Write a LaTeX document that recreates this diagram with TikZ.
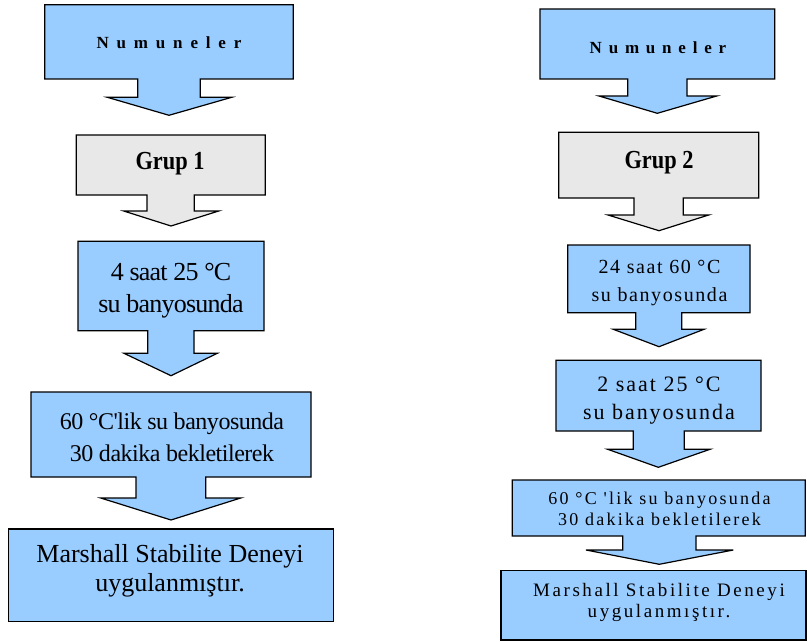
\documentclass[tikz,border=0pt]{standalone}
\usepackage{fontspec}
\newfontfamily\serifx{Liberation Serif}
\newfontfamily\grupfont[FakeStretch=0.86]{Liberation Serif}
\definecolor{boxblue}{HTML}{99CCFF}
\definecolor{boxgray}{HTML}{E8E8E8}
\begin{document}
\begin{tikzpicture}[x=1pt,y=-1pt,
  shp/.style={draw=black,line width=1.2pt,line join=miter},
  txt/.style={anchor=base,inner sep=0pt,text=black,font=\serifx}]
\useasboundingbox (0,0) rectangle (807,642);
% ---------- left column ----------
\draw[shp,fill=boxblue] (44.7,4.7) -- (293.3,4.7) -- (293.3,79) -- (200.3,79) -- (200.3,97.3) -- (231.7,97.3) -- (169,115.3) -- (107.3,97.3) -- (137.7,97.3) -- (137.7,79) -- (44.7,79) -- cycle;
\draw[shp,fill=boxgray] (76.3,135) -- (265.3,135) -- (265.3,195) -- (194.3,195) -- (194.3,211) -- (218.7,211) -- (171,226) -- (123.7,211) -- (147,211) -- (147,195) -- (76.3,195) -- cycle;
\draw[shp,fill=boxblue] (78,241.3) -- (264,241.3) -- (264,330.7) -- (194,330.7) -- (194,353.3) -- (217.3,353.3) -- (171,375.7) -- (124,353.3) -- (147.7,353.3) -- (147.7,330.7) -- (78,330.7) -- cycle;
\draw[shp,fill=boxblue] (31,392) -- (311,392) -- (311,477) -- (205.7,477) -- (205.7,498) -- (240.7,498) -- (171,520) -- (100.7,498) -- (136,498) -- (136,477) -- (31,477) -- cycle;
\draw[shp,fill=boxblue] (8.3,529) rectangle (333.3,621.7);
% ---------- right column ----------
\draw[shp,fill=boxblue] (540,9) -- (774.7,9) -- (774.7,79) -- (687,79) -- (687,96) -- (716.7,96) -- (657.3,113.3) -- (599,96) -- (627.7,96) -- (627.7,79) -- (540,79) -- cycle;
\draw[shp,fill=boxgray] (558.7,132.3) -- (758.7,132.3) -- (758.7,198) -- (683.3,198) -- (683.3,215) -- (708.7,215) -- (659,230.7) -- (608,215) -- (634,215) -- (634,198) -- (558.7,198) -- cycle;
\draw[shp,fill=boxblue] (567.7,245) -- (750,245) -- (750,312.7) -- (681.7,312.7) -- (681.7,329.3) -- (704,329.3) -- (659,346.7) -- (613.3,329.3) -- (635.7,329.3) -- (635.7,312.7) -- (567.7,312.7) -- cycle;
\draw[shp,fill=boxblue] (556,360.3) -- (761,360.3) -- (761,431) -- (684.3,431) -- (684.3,449.3) -- (710,449.3) -- (658.3,467.3) -- (607.7,449.3) -- (633.3,449.3) -- (633.3,431) -- (556,431) -- cycle;
\draw[shp,fill=boxblue] (512.3,480) -- (805.3,480) -- (805.3,536) -- (696,536) -- (696,550) -- (733.3,550) -- (659.3,564.3) -- (586,550) -- (622.7,550) -- (622.7,536) -- (512.3,536) -- cycle;
\draw[shp,fill=boxblue] (501,570.7) rectangle (806,640);
% ---------- left texts ----------
\node[txt] (l1) at (169,49) {\fontsize{17}{20}\selectfont\bfseries\addfontfeature{LetterSpace=46}Numuneler};
\node[txt] (l2) at (170,169.3) {\fontsize{26}{30}\selectfont\grupfont\bfseries Grup 1};
\node[txt] (l3a) at (171,280) {\fontsize{26}{30}\selectfont\addfontfeature{LetterSpace=-3}4 saat 25 °C};
\node[txt] (l3b) at (171,312.3) {\fontsize{26}{30}\selectfont\addfontfeature{LetterSpace=-3}su banyosunda};
\node[txt] (l4a) at (172,429.3) {\fontsize{24}{28}\selectfont\addfontfeature{LetterSpace=-2}60 °C'lik su banyosunda};
\node[txt] (l4b) at (172,461.7) {\fontsize{24}{28}\selectfont\addfontfeature{LetterSpace=-2}30 dakika bekletilerek};
\node[txt] (l5a) at (170,562.3) {\fontsize{26}{30}\selectfont Marshall Stabilite Deneyi};
\node[txt] (l5b) at (170,591.7) {\fontsize{26}{30}\selectfont uygulanmıştır.};
% ---------- right texts ----------
\node[txt] (r1) at (658,53.3) {\fontsize{17}{20}\selectfont\bfseries\addfontfeature{LetterSpace=40}Numuneler};
\node[txt] (r2) at (659,168.3) {\fontsize{26}{30}\selectfont\grupfont\bfseries Grup 2};
\node[txt] (r3a) at (659.5,273.3) {\fontsize{20}{24}\selectfont\addfontfeature{LetterSpace=8}24 saat 60 °C};
\node[txt] (r3b) at (659.5,301.7) {\fontsize{20}{24}\selectfont\addfontfeature{LetterSpace=8}su banyosunda};
\node[txt] (r4a) at (659,391.7) {\fontsize{22}{26}\selectfont\addfontfeature{LetterSpace=9}2 saat 25 °C};
\node[txt] (r4b) at (659,419) {\fontsize{22}{26}\selectfont\addfontfeature{LetterSpace=9}su banyosunda};
\node[txt] (r5a) at (659.5,504) {\fontsize{18}{21}\selectfont\addfontfeature{LetterSpace=12.5}60 °C 'lik su banyosunda};
\node[txt] (r5b) at (659.5,525) {\fontsize{18}{21}\selectfont\addfontfeature{LetterSpace=12.5}30 dakika bekletilerek};
\node[txt] (r6a) at (659,596) {\fontsize{19}{22}\selectfont\addfontfeature{LetterSpace=13.5}Marshall Stabilite Deneyi};
\node[txt] (r6b) at (659,617.7) {\fontsize{19}{22}\selectfont\addfontfeature{LetterSpace=13.5}uygulanmıştır.};
\end{tikzpicture}
\end{document}
